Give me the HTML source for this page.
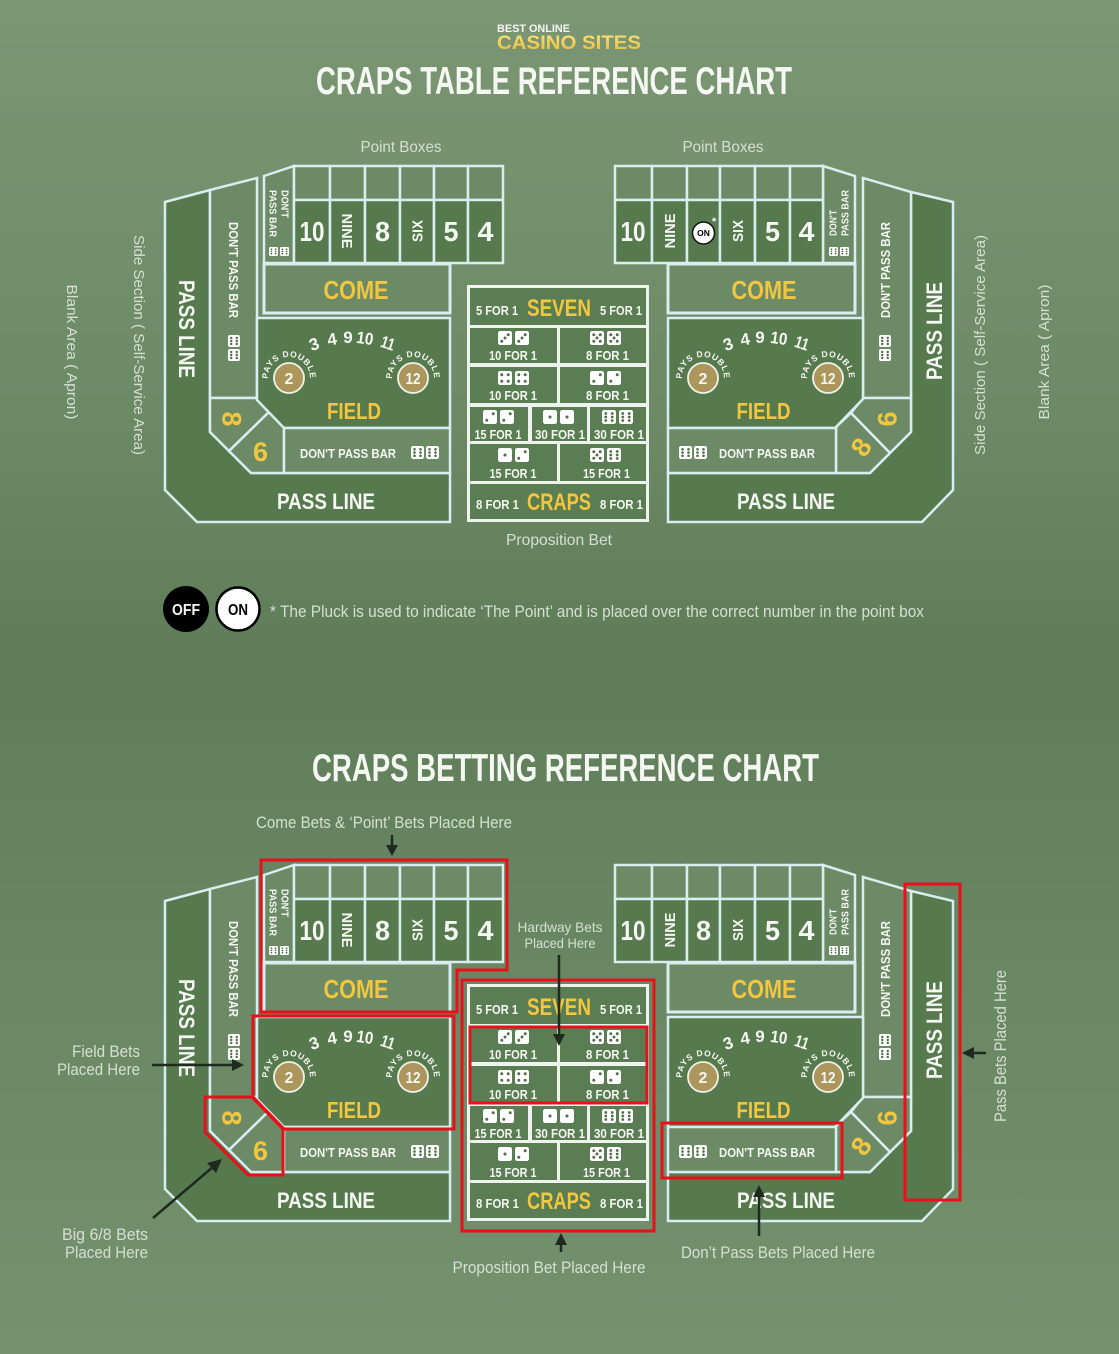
<!DOCTYPE html>
<html><head><meta charset="utf-8"><style>
html,body{margin:0;padding:0;width:1119px;height:1354px;overflow:hidden;background:#6d8a67}
svg{display:block}
.b{font-family:"Liberation Sans",sans-serif;font-weight:bold;fill:#f5f7f2}
.y{fill:#f3c640}
.k{fill:#000}
.l{font-family:"Liberation Sans",sans-serif;fill:#d4e0d0}
.d{fill:#567a4d;stroke:#d8edf0;stroke-width:2.5}
.p{fill:#6b8a65;stroke:#d8edf0;stroke-width:2.5}
.c{fill:#5b7d53}
.r{fill:none;stroke:#e8101a;stroke-width:3}
.a{stroke:#1f2a1e;stroke-width:2.5;fill:none}
.ah{fill:#1f2a1e}
</style></head><body>
<svg width="1119" height="1354" viewBox="0 0 1119 1354" xmlns="http://www.w3.org/2000/svg">
<defs>
<linearGradient id="bg" x1="0" y1="0" x2="0" y2="1">
<stop offset="0" stop-color="#7a9673"/>
<stop offset="0.1" stop-color="#76926f"/>
<stop offset="0.3" stop-color="#6d8a67"/>
<stop offset="0.45" stop-color="#627f5b"/>
<stop offset="0.5" stop-color="#5f7d59"/>
<stop offset="0.62" stop-color="#66835f"/>
<stop offset="0.85" stop-color="#6f8c69"/>
<stop offset="1" stop-color="#75926f"/>
</linearGradient>
<linearGradient id="gold" x1="0" y1="0" x2="0" y2="1">
<stop offset="0" stop-color="#fbe27a"/><stop offset="1" stop-color="#e8b833"/>
</linearGradient>
<symbol id="d1" viewBox="0 0 10 10"><rect width="10" height="10" rx="1.6" fill="#fff"/><circle cx="5" cy="5" r="1.1" fill="#4e6f46"/></symbol>
<symbol id="d2" viewBox="0 0 10 10"><rect width="10" height="10" rx="1.6" fill="#fff"/><circle cx="7.3" cy="2.7" r="1.05" fill="#4e6f46"/><circle cx="2.7" cy="7.3" r="1.05" fill="#4e6f46"/></symbol>
<symbol id="d3" viewBox="0 0 10 10"><rect width="10" height="10" rx="1.6" fill="#fff"/><circle cx="7.3" cy="2.7" r="1.05" fill="#4e6f46"/><circle cx="5" cy="5" r="1.05" fill="#4e6f46"/><circle cx="2.7" cy="7.3" r="1.05" fill="#4e6f46"/></symbol>
<symbol id="d4" viewBox="0 0 10 10"><rect width="10" height="10" rx="1.6" fill="#fff"/><circle cx="2.7" cy="2.7" r="1.05" fill="#4e6f46"/><circle cx="7.3" cy="2.7" r="1.05" fill="#4e6f46"/><circle cx="2.7" cy="7.3" r="1.05" fill="#4e6f46"/><circle cx="7.3" cy="7.3" r="1.05" fill="#4e6f46"/></symbol>
<symbol id="d5" viewBox="0 0 10 10"><rect width="10" height="10" rx="1.6" fill="#fff"/><circle cx="2.7" cy="2.7" r="1.05" fill="#4e6f46"/><circle cx="7.3" cy="2.7" r="1.05" fill="#4e6f46"/><circle cx="5" cy="5" r="1.05" fill="#4e6f46"/><circle cx="2.7" cy="7.3" r="1.05" fill="#4e6f46"/><circle cx="7.3" cy="7.3" r="1.05" fill="#4e6f46"/></symbol>
<symbol id="d6" viewBox="0 0 10 10"><rect width="10" height="10" rx="1.6" fill="#fff"/><circle cx="2.7" cy="2.5" r="1" fill="#4e6f46"/><circle cx="7.3" cy="2.5" r="1" fill="#4e6f46"/><circle cx="2.7" cy="5" r="1" fill="#4e6f46"/><circle cx="7.3" cy="5" r="1" fill="#4e6f46"/><circle cx="2.7" cy="7.5" r="1" fill="#4e6f46"/><circle cx="7.3" cy="7.5" r="1" fill="#4e6f46"/></symbol>
<path id="pd1" d="M269.3,385.2 A21,21 0 1 1 308.7,385.2"/>
<path id="pd2" d="M393.3,385.2 A21,21 0 1 1 432.7,385.2"/>
<path id="pd3" d="M683.3,385.2 A21,21 0 1 1 722.7,385.2"/>
<path id="pd4" d="M808.3,385.2 A21,21 0 1 1 847.7,385.2"/>
</defs>
<rect x="0" y="0" width="1119" height="1354" fill="url(#bg)"/>

<!-- HEADER -->
<text class="b" x="497" y="32" font-size="11" textLength="73" lengthAdjust="spacingAndGlyphs">BEST ONLINE</text>
<text class="b" x="497" y="49" font-size="19" textLength="144" lengthAdjust="spacingAndGlyphs" style="fill:url(#gold)">CASINO SITES</text>
<text class="b" x="554" y="94" font-size="39" text-anchor="middle" textLength="476" lengthAdjust="spacingAndGlyphs">CRAPS TABLE REFERENCE CHART</text>

<!-- labels top -->
<text class="l" x="401" y="152" font-size="16" text-anchor="middle" textLength="81" lengthAdjust="spacingAndGlyphs">Point Boxes</text>
<text class="l" x="723" y="152" font-size="16" text-anchor="middle" textLength="81" lengthAdjust="spacingAndGlyphs">Point Boxes</text>
<text class="l" transform="translate(139,345) rotate(90)" y="5" font-size="15" text-anchor="middle" textLength="220" lengthAdjust="spacingAndGlyphs">Side Section ( Self-Service Area)</text>
<text class="l" transform="translate(72,352) rotate(90)" y="5" font-size="15" text-anchor="middle" textLength="135" lengthAdjust="spacingAndGlyphs">Blank Area ( Apron)</text>
<text class="l" transform="translate(980,345) rotate(-90)" y="5" font-size="15" text-anchor="middle" textLength="220" lengthAdjust="spacingAndGlyphs">Side Section ( Self-Service Area)</text>
<text class="l" transform="translate(1044,352) rotate(-90)" y="5" font-size="15" text-anchor="middle" textLength="135" lengthAdjust="spacingAndGlyphs">Blank Area ( Apron)</text>
<text class="l" x="559" y="545" font-size="16" text-anchor="middle" textLength="106" lengthAdjust="spacingAndGlyphs">Proposition Bet</text>

<!-- ================= TOP TABLE ================= -->
<g>
<polygon class="d" points="165,202 210,190 210,432 251,473 450,473 450,522 197,522 165,490"/>
<polygon class="p" points="210,190 257,178 257,398 210,398"/>
<polygon class="p" points="210,398 256,398 269,412 229,451 210,432"/>
<polygon class="p" points="269,412 284,427 284,473 251,473 229,451"/>
<polygon class="d" points="257,318 450,318 450,428 284,428 257,400"/>
<rect class="p" x="284" y="428" width="166" height="45"/>
<rect class="p" x="264" y="264" width="186" height="49" style="stroke-width:3"/>
<polygon class="p" points="264,176 294,166 294,263 264,263"/>
<rect class="p" x="294" y="166" width="36" height="34"/>
<rect class="p" x="330" y="166" width="35" height="34"/>
<rect class="p" x="365" y="166" width="35" height="34"/>
<rect class="p" x="400" y="166" width="34" height="34"/>
<rect class="p" x="434" y="166" width="34" height="34"/>
<rect class="p" x="468" y="166" width="35" height="34"/>
<rect class="d" x="294" y="200" width="36" height="63"/>
<rect class="d" x="330" y="200" width="35" height="63"/>
<rect class="d" x="365" y="200" width="35" height="63"/>
<rect class="d" x="400" y="200" width="34" height="63"/>
<rect class="d" x="434" y="200" width="34" height="63"/>
<rect class="d" x="468" y="200" width="35" height="63"/>

<text class="b" transform="translate(187,329) rotate(90)" y="8" font-size="22" text-anchor="middle" textLength="98" lengthAdjust="spacingAndGlyphs">PASS LINE</text>
<text class="b" transform="translate(234,270) rotate(90)" y="5" font-size="13" text-anchor="middle" textLength="96" lengthAdjust="spacingAndGlyphs">DON'T PASS BAR</text>
<use href="#d6" x="228" y="335" width="12" height="12"/>
<use href="#d6" x="228" y="349" width="12" height="12"/>
<text class="b" transform="translate(285,190) rotate(90)" y="3.5" font-size="10" textLength="28" lengthAdjust="spacingAndGlyphs">DON'T</text>
<text class="b" transform="translate(273,190) rotate(90)" y="3.5" font-size="10" textLength="47" lengthAdjust="spacingAndGlyphs">PASS BAR</text>
<use href="#d6" x="269" y="247" width="9" height="9"/>
<use href="#d6" x="280" y="247" width="9" height="9"/>

<text class="b" x="312" y="241" font-size="28" text-anchor="middle" textLength="25" lengthAdjust="spacingAndGlyphs">10</text>
<text class="b" transform="translate(347.5,231) rotate(90)" y="5.5" font-size="15" text-anchor="middle" textLength="35" lengthAdjust="spacingAndGlyphs">NINE</text>
<text class="b" x="382.5" y="241" font-size="28" text-anchor="middle" textLength="15" lengthAdjust="spacingAndGlyphs">8</text>
<text class="b" transform="translate(417,231) rotate(-90)" y="5.5" font-size="15" text-anchor="middle" textLength="22" lengthAdjust="spacingAndGlyphs">SIX</text>
<text class="b" x="451" y="241" font-size="28" text-anchor="middle" textLength="15" lengthAdjust="spacingAndGlyphs">5</text>
<text class="b" x="485.5" y="241" font-size="28" text-anchor="middle" textLength="16" lengthAdjust="spacingAndGlyphs">4</text>

<text class="b y" x="356" y="299" font-size="26" text-anchor="middle" textLength="65" lengthAdjust="spacingAndGlyphs">COME</text>

<text class="b" x="314" y="350" font-size="17" text-anchor="middle" transform="rotate(-20 314 344)">3</text>
<text class="b" x="332" y="345" font-size="17" text-anchor="middle" transform="rotate(-10 332 339)">4</text>
<text class="b" x="348" y="343" font-size="17" text-anchor="middle">9</text>
<text class="b" x="365" y="344" font-size="17" text-anchor="middle" textLength="17" lengthAdjust="spacingAndGlyphs" transform="rotate(8 365 338)">10</text>
<text class="b" x="388" y="349" font-size="17" text-anchor="middle" textLength="14" lengthAdjust="spacingAndGlyphs" transform="rotate(18 388 343)">11</text>
<circle cx="289" cy="378" r="15" fill="#ad965b" stroke="#eef2ea" stroke-width="1.8"/>
<text class="b" x="289" y="384" font-size="16" text-anchor="middle">2</text>
<text class="b" font-size="8.5" letter-spacing="0.7"><textPath href="#pd1" startOffset="50%" text-anchor="middle">PAYS DOUBLE</textPath></text>
<circle cx="413" cy="378" r="15" fill="#ad965b" stroke="#eef2ea" stroke-width="1.8"/>
<text class="b" x="413" y="384" font-size="16" text-anchor="middle" textLength="15" lengthAdjust="spacingAndGlyphs">12</text>
<text class="b" font-size="8.5" letter-spacing="0.7"><textPath href="#pd2" startOffset="50%" text-anchor="middle">PAYS DOUBLE</textPath></text>
<text class="b y" x="354" y="419" font-size="23" text-anchor="middle" textLength="54" lengthAdjust="spacingAndGlyphs">FIELD</text>

<text class="b" x="348" y="458" font-size="13" text-anchor="middle" textLength="96" lengthAdjust="spacingAndGlyphs">DON'T PASS BAR</text>
<use href="#d6" x="411" y="446" width="13" height="13"/>
<use href="#d6" x="426" y="446" width="13" height="13"/>
<text class="b" x="326" y="509" font-size="22" text-anchor="middle" textLength="98" lengthAdjust="spacingAndGlyphs">PASS LINE</text>
<text class="b y" transform="translate(232,419) rotate(90)" y="9.5" font-size="27" text-anchor="middle" textLength="15" lengthAdjust="spacingAndGlyphs">8</text>
<text class="b y" x="260.5" y="461" font-size="27" text-anchor="middle" textLength="15" lengthAdjust="spacingAndGlyphs">6</text>

<!-- RIGHT TABLE -->
<polygon class="d" points="953,202 911,192 911,432 870,473 668,473 668,522 922,522 953,490"/>
<polygon class="p" points="863,178 911,192 911,398 863,398"/>
<polygon class="p" points="863,398 911,398 911,432 890,453 851,413"/>
<polygon class="p" points="851,413 890,453 870,473 836,473 836,427"/>
<polygon class="d" points="668,318 863,318 863,399 836,427 836,428 668,428"/>
<rect class="p" x="668" y="428" width="168" height="45"/>
<rect class="p" x="668" y="264" width="187" height="49" style="stroke-width:3"/>
<polygon class="p" points="823,166 855,176 855,263 823,263"/>
<rect class="p" x="615" y="166" width="37" height="34"/>
<rect class="p" x="652" y="166" width="35" height="34"/>
<rect class="p" x="687" y="166" width="33" height="34"/>
<rect class="p" x="720" y="166" width="35" height="34"/>
<rect class="p" x="755" y="166" width="35" height="34"/>
<rect class="p" x="790" y="166" width="33" height="34"/>
<rect class="d" x="615" y="200" width="37" height="63"/>
<rect class="d" x="652" y="200" width="35" height="63"/>
<rect class="d" x="687" y="200" width="33" height="63"/>
<rect class="d" x="720" y="200" width="35" height="63"/>
<rect class="d" x="755" y="200" width="35" height="63"/>
<rect class="d" x="790" y="200" width="33" height="63"/>

<text class="b" x="633" y="241" font-size="28" text-anchor="middle" textLength="25" lengthAdjust="spacingAndGlyphs">10</text>
<text class="b" transform="translate(669.5,231) rotate(-90)" y="5.5" font-size="15" text-anchor="middle" textLength="35" lengthAdjust="spacingAndGlyphs">NINE</text>
<circle cx="703.5" cy="233" r="11" fill="#fff" stroke="#111" stroke-width="1.5"/>
<text class="b k" x="703.5" y="236" font-size="8.5" text-anchor="middle">ON</text>
<text class="b" x="712" y="225" font-size="11">*</text>
<text class="b" transform="translate(737.5,231) rotate(-90)" y="5.5" font-size="15" text-anchor="middle" textLength="22" lengthAdjust="spacingAndGlyphs">SIX</text>
<text class="b" x="772.5" y="241" font-size="28" text-anchor="middle" textLength="15" lengthAdjust="spacingAndGlyphs">5</text>
<text class="b" x="806.5" y="241" font-size="28" text-anchor="middle" textLength="16" lengthAdjust="spacingAndGlyphs">4</text>
<text class="b" transform="translate(833,236) rotate(-90)" y="3.5" font-size="10" textLength="26" lengthAdjust="spacingAndGlyphs">DON'T</text>
<text class="b" transform="translate(845,236) rotate(-90)" y="3.5" font-size="10" textLength="46" lengthAdjust="spacingAndGlyphs">PASS BAR</text>
<use href="#d6" x="829" y="247" width="9" height="9"/>
<use href="#d6" x="840" y="247" width="9" height="9"/>

<text class="b" transform="translate(885,270) rotate(-90)" y="5" font-size="13" text-anchor="middle" textLength="96" lengthAdjust="spacingAndGlyphs">DON'T PASS BAR</text>
<use href="#d6" x="879" y="335" width="12" height="12"/>
<use href="#d6" x="879" y="349" width="12" height="12"/>
<text class="b" transform="translate(934,331) rotate(-90)" y="8" font-size="22" text-anchor="middle" textLength="98" lengthAdjust="spacingAndGlyphs">PASS LINE</text>

<text class="b y" x="764" y="299" font-size="26" text-anchor="middle" textLength="65" lengthAdjust="spacingAndGlyphs">COME</text>

<text class="b" x="728" y="350" font-size="17" text-anchor="middle" transform="rotate(-20 728 344)">3</text>
<text class="b" x="745" y="345" font-size="17" text-anchor="middle" transform="rotate(-10 745 339)">4</text>
<text class="b" x="760" y="343" font-size="17" text-anchor="middle">9</text>
<text class="b" x="779" y="344" font-size="17" text-anchor="middle" textLength="17" lengthAdjust="spacingAndGlyphs" transform="rotate(8 779 338)">10</text>
<text class="b" x="802" y="349" font-size="17" text-anchor="middle" textLength="14" lengthAdjust="spacingAndGlyphs" transform="rotate(18 802 343)">11</text>
<circle cx="703" cy="378" r="15" fill="#ad965b" stroke="#eef2ea" stroke-width="1.8"/>
<text class="b" x="703" y="384" font-size="16" text-anchor="middle">2</text>
<text class="b" font-size="8.5" letter-spacing="0.7"><textPath href="#pd3" startOffset="50%" text-anchor="middle">PAYS DOUBLE</textPath></text>
<circle cx="828" cy="378" r="15" fill="#ad965b" stroke="#eef2ea" stroke-width="1.8"/>
<text class="b" x="828" y="384" font-size="16" text-anchor="middle" textLength="15" lengthAdjust="spacingAndGlyphs">12</text>
<text class="b" font-size="8.5" letter-spacing="0.7"><textPath href="#pd4" startOffset="50%" text-anchor="middle">PAYS DOUBLE</textPath></text>
<text class="b y" x="763.5" y="419" font-size="23" text-anchor="middle" textLength="54" lengthAdjust="spacingAndGlyphs">FIELD</text>

<use href="#d6" x="679" y="446" width="13" height="13"/>
<use href="#d6" x="694" y="446" width="13" height="13"/>
<text class="b" x="767" y="458" font-size="13" text-anchor="middle" textLength="96" lengthAdjust="spacingAndGlyphs">DON'T PASS BAR</text>
<text class="b" x="786" y="509" font-size="22" text-anchor="middle" textLength="98" lengthAdjust="spacingAndGlyphs">PASS LINE</text>
<text class="b y" transform="translate(887,419) rotate(-90)" y="9.5" font-size="27" text-anchor="middle" textLength="15" lengthAdjust="spacingAndGlyphs">6</text>
<text class="b y" transform="translate(861,447) rotate(-55)" y="9.5" font-size="27" text-anchor="middle" textLength="15" lengthAdjust="spacingAndGlyphs">8</text>

<!-- PROPOSITION -->
<rect x="467" y="285" width="182" height="237" fill="#eef3ee"/>
<rect class="c" x="470" y="288" width="176" height="37"/>
<rect class="c" x="470" y="328" width="87" height="35"/>
<rect class="c" x="560" y="328" width="86" height="35"/>
<rect class="c" x="470" y="367" width="87" height="36"/>
<rect class="c" x="560" y="367" width="86" height="36"/>
<rect class="c" x="470" y="407" width="58" height="34"/>
<rect class="c" x="532" y="407" width="55" height="34"/>
<rect class="c" x="590" y="407" width="56" height="34"/>
<rect class="c" x="470" y="444" width="87" height="37"/>
<rect class="c" x="560" y="444" width="86" height="37"/>
<rect class="c" x="470" y="484" width="176" height="35"/>

<text class="b" x="497" y="315" font-size="13" text-anchor="middle" textLength="42" lengthAdjust="spacingAndGlyphs">5 FOR 1</text>
<text class="b y" x="559" y="316" font-size="24" text-anchor="middle" textLength="64" lengthAdjust="spacingAndGlyphs">SEVEN</text>
<text class="b" x="621" y="315" font-size="13" text-anchor="middle" textLength="42" lengthAdjust="spacingAndGlyphs">5 FOR 1</text>

<use href="#d3" x="498" y="331" width="14" height="14"/><use href="#d3" x="515" y="331" width="14" height="14"/>
<text class="b" x="513" y="360" font-size="13" text-anchor="middle" textLength="48" lengthAdjust="spacingAndGlyphs">10 FOR 1</text>
<use href="#d5" x="590" y="331" width="14" height="14"/><use href="#d5" x="607" y="331" width="14" height="14"/>
<text class="b" x="607.5" y="360" font-size="13" text-anchor="middle" textLength="43" lengthAdjust="spacingAndGlyphs">8 FOR 1</text>

<use href="#d4" x="498" y="371" width="14" height="14"/><use href="#d4" x="515" y="371" width="14" height="14"/>
<text class="b" x="513" y="400" font-size="13" text-anchor="middle" textLength="48" lengthAdjust="spacingAndGlyphs">10 FOR 1</text>
<use href="#d2" x="590" y="371" width="14" height="14"/><use href="#d2" x="607" y="371" width="14" height="14"/>
<text class="b" x="607.5" y="400" font-size="13" text-anchor="middle" textLength="43" lengthAdjust="spacingAndGlyphs">8 FOR 1</text>

<use href="#d2" x="483" y="410" width="14" height="14"/><use href="#d2" x="500" y="410" width="14" height="14"/>
<text class="b" x="498" y="439" font-size="12.5" text-anchor="middle" textLength="47" lengthAdjust="spacingAndGlyphs">15 FOR 1</text>
<use href="#d1" x="543" y="410" width="14" height="14"/><use href="#d1" x="560" y="410" width="14" height="14"/>
<text class="b" x="560" y="439" font-size="12.5" text-anchor="middle" textLength="50" lengthAdjust="spacingAndGlyphs">30 FOR 1</text>
<use href="#d6" x="602" y="410" width="14" height="14"/><use href="#d6" x="619" y="410" width="14" height="14"/>
<text class="b" x="619" y="439" font-size="12.5" text-anchor="middle" textLength="50" lengthAdjust="spacingAndGlyphs">30 FOR 1</text>

<use href="#d1" x="498" y="448" width="14" height="14"/><use href="#d2" x="515" y="448" width="14" height="14"/>
<text class="b" x="513" y="478" font-size="13" text-anchor="middle" textLength="47" lengthAdjust="spacingAndGlyphs">15 FOR 1</text>
<use href="#d5" x="590" y="448" width="14" height="14"/><use href="#d6" x="607" y="448" width="14" height="14"/>
<text class="b" x="606.5" y="478" font-size="13" text-anchor="middle" textLength="47" lengthAdjust="spacingAndGlyphs">15 FOR 1</text>

<text class="b" x="497.5" y="509" font-size="13" text-anchor="middle" textLength="43" lengthAdjust="spacingAndGlyphs">8 FOR 1</text>
<text class="b y" x="559" y="510" font-size="24" text-anchor="middle" textLength="64" lengthAdjust="spacingAndGlyphs">CRAPS</text>
<text class="b" x="621.5" y="509" font-size="13" text-anchor="middle" textLength="43" lengthAdjust="spacingAndGlyphs">8 FOR 1</text>
</g>

<!-- PLUCK -->
<circle cx="186" cy="609" r="23" fill="#000"/>
<text class="b" x="186" y="615" font-size="16" text-anchor="middle" textLength="28" lengthAdjust="spacingAndGlyphs">OFF</text>
<circle cx="238" cy="609" r="21.5" fill="#fff" stroke="#000" stroke-width="2.5"/>
<text class="b k" x="238" y="615" font-size="16" text-anchor="middle" textLength="20" lengthAdjust="spacingAndGlyphs">ON</text>
<text class="l" x="270" y="617" font-size="17" textLength="654" lengthAdjust="spacingAndGlyphs">* The Pluck is used to indicate ‘The Point’ and is placed over the correct number in the point box</text>

<!-- SECOND TITLE -->
<text class="b" x="565.5" y="781" font-size="39" text-anchor="middle" textLength="507" lengthAdjust="spacingAndGlyphs">CRAPS BETTING REFERENCE CHART</text>

<!-- ================= BOTTOM TABLE ================= -->
<g transform="translate(0,699)">
<polygon class="d" points="165,202 210,190 210,432 251,473 450,473 450,522 197,522 165,490"/>
<polygon class="p" points="210,190 257,178 257,398 210,398"/>
<polygon class="p" points="210,398 256,398 269,412 229,451 210,432"/>
<polygon class="p" points="269,412 284,427 284,473 251,473 229,451"/>
<polygon class="d" points="257,318 450,318 450,428 284,428 257,400"/>
<rect class="p" x="284" y="428" width="166" height="45"/>
<rect class="p" x="264" y="264" width="186" height="49" style="stroke-width:3"/>
<polygon class="p" points="264,176 294,166 294,263 264,263"/>
<rect class="p" x="294" y="166" width="36" height="34"/>
<rect class="p" x="330" y="166" width="35" height="34"/>
<rect class="p" x="365" y="166" width="35" height="34"/>
<rect class="p" x="400" y="166" width="34" height="34"/>
<rect class="p" x="434" y="166" width="34" height="34"/>
<rect class="p" x="468" y="166" width="35" height="34"/>
<rect class="d" x="294" y="200" width="36" height="63"/>
<rect class="d" x="330" y="200" width="35" height="63"/>
<rect class="d" x="365" y="200" width="35" height="63"/>
<rect class="d" x="400" y="200" width="34" height="63"/>
<rect class="d" x="434" y="200" width="34" height="63"/>
<rect class="d" x="468" y="200" width="35" height="63"/>

<text class="b" transform="translate(187,329) rotate(90)" y="8" font-size="22" text-anchor="middle" textLength="98" lengthAdjust="spacingAndGlyphs">PASS LINE</text>
<text class="b" transform="translate(234,270) rotate(90)" y="5" font-size="13" text-anchor="middle" textLength="96" lengthAdjust="spacingAndGlyphs">DON'T PASS BAR</text>
<use href="#d6" x="228" y="335" width="12" height="12"/>
<use href="#d6" x="228" y="349" width="12" height="12"/>
<text class="b" transform="translate(285,190) rotate(90)" y="3.5" font-size="10" textLength="28" lengthAdjust="spacingAndGlyphs">DON'T</text>
<text class="b" transform="translate(273,190) rotate(90)" y="3.5" font-size="10" textLength="47" lengthAdjust="spacingAndGlyphs">PASS BAR</text>
<use href="#d6" x="269" y="247" width="9" height="9"/>
<use href="#d6" x="280" y="247" width="9" height="9"/>

<text class="b" x="312" y="241" font-size="28" text-anchor="middle" textLength="25" lengthAdjust="spacingAndGlyphs">10</text>
<text class="b" transform="translate(347.5,231) rotate(90)" y="5.5" font-size="15" text-anchor="middle" textLength="35" lengthAdjust="spacingAndGlyphs">NINE</text>
<text class="b" x="382.5" y="241" font-size="28" text-anchor="middle" textLength="15" lengthAdjust="spacingAndGlyphs">8</text>
<text class="b" transform="translate(417,231) rotate(-90)" y="5.5" font-size="15" text-anchor="middle" textLength="22" lengthAdjust="spacingAndGlyphs">SIX</text>
<text class="b" x="451" y="241" font-size="28" text-anchor="middle" textLength="15" lengthAdjust="spacingAndGlyphs">5</text>
<text class="b" x="485.5" y="241" font-size="28" text-anchor="middle" textLength="16" lengthAdjust="spacingAndGlyphs">4</text>

<text class="b y" x="356" y="299" font-size="26" text-anchor="middle" textLength="65" lengthAdjust="spacingAndGlyphs">COME</text>

<text class="b" x="314" y="350" font-size="17" text-anchor="middle" transform="rotate(-20 314 344)">3</text>
<text class="b" x="332" y="345" font-size="17" text-anchor="middle" transform="rotate(-10 332 339)">4</text>
<text class="b" x="348" y="343" font-size="17" text-anchor="middle">9</text>
<text class="b" x="365" y="344" font-size="17" text-anchor="middle" textLength="17" lengthAdjust="spacingAndGlyphs" transform="rotate(8 365 338)">10</text>
<text class="b" x="388" y="349" font-size="17" text-anchor="middle" textLength="14" lengthAdjust="spacingAndGlyphs" transform="rotate(18 388 343)">11</text>
<circle cx="289" cy="378" r="15" fill="#ad965b" stroke="#eef2ea" stroke-width="1.8"/>
<text class="b" x="289" y="384" font-size="16" text-anchor="middle">2</text>
<text class="b" font-size="8.5" letter-spacing="0.7"><textPath href="#pd1" startOffset="50%" text-anchor="middle">PAYS DOUBLE</textPath></text>
<circle cx="413" cy="378" r="15" fill="#ad965b" stroke="#eef2ea" stroke-width="1.8"/>
<text class="b" x="413" y="384" font-size="16" text-anchor="middle" textLength="15" lengthAdjust="spacingAndGlyphs">12</text>
<text class="b" font-size="8.5" letter-spacing="0.7"><textPath href="#pd2" startOffset="50%" text-anchor="middle">PAYS DOUBLE</textPath></text>
<text class="b y" x="354" y="419" font-size="23" text-anchor="middle" textLength="54" lengthAdjust="spacingAndGlyphs">FIELD</text>

<text class="b" x="348" y="458" font-size="13" text-anchor="middle" textLength="96" lengthAdjust="spacingAndGlyphs">DON'T PASS BAR</text>
<use href="#d6" x="411" y="446" width="13" height="13"/>
<use href="#d6" x="426" y="446" width="13" height="13"/>
<text class="b" x="326" y="509" font-size="22" text-anchor="middle" textLength="98" lengthAdjust="spacingAndGlyphs">PASS LINE</text>
<text class="b y" transform="translate(232,419) rotate(90)" y="9.5" font-size="27" text-anchor="middle" textLength="15" lengthAdjust="spacingAndGlyphs">8</text>
<text class="b y" x="260.5" y="461" font-size="27" text-anchor="middle" textLength="15" lengthAdjust="spacingAndGlyphs">6</text>

<polygon class="d" points="953,202 911,192 911,432 870,473 668,473 668,522 922,522 953,490"/>
<polygon class="p" points="863,178 911,192 911,398 863,398"/>
<polygon class="p" points="863,398 911,398 911,432 890,453 851,413"/>
<polygon class="p" points="851,413 890,453 870,473 836,473 836,427"/>
<polygon class="d" points="668,318 863,318 863,399 836,427 836,428 668,428"/>
<rect class="p" x="668" y="428" width="168" height="45"/>
<rect class="p" x="668" y="264" width="187" height="49" style="stroke-width:3"/>
<polygon class="p" points="823,166 855,176 855,263 823,263"/>
<rect class="p" x="615" y="166" width="37" height="34"/>
<rect class="p" x="652" y="166" width="35" height="34"/>
<rect class="p" x="687" y="166" width="33" height="34"/>
<rect class="p" x="720" y="166" width="35" height="34"/>
<rect class="p" x="755" y="166" width="35" height="34"/>
<rect class="p" x="790" y="166" width="33" height="34"/>
<rect class="d" x="615" y="200" width="37" height="63"/>
<rect class="d" x="652" y="200" width="35" height="63"/>
<rect class="d" x="687" y="200" width="33" height="63"/>
<rect class="d" x="720" y="200" width="35" height="63"/>
<rect class="d" x="755" y="200" width="35" height="63"/>
<rect class="d" x="790" y="200" width="33" height="63"/>

<text class="b" x="633" y="241" font-size="28" text-anchor="middle" textLength="25" lengthAdjust="spacingAndGlyphs">10</text>
<text class="b" transform="translate(669.5,231) rotate(-90)" y="5.5" font-size="15" text-anchor="middle" textLength="35" lengthAdjust="spacingAndGlyphs">NINE</text>
<text class="b" x="703.5" y="241" font-size="28" text-anchor="middle" textLength="15" lengthAdjust="spacingAndGlyphs">8</text>
<text class="b" transform="translate(737.5,231) rotate(-90)" y="5.5" font-size="15" text-anchor="middle" textLength="22" lengthAdjust="spacingAndGlyphs">SIX</text>
<text class="b" x="772.5" y="241" font-size="28" text-anchor="middle" textLength="15" lengthAdjust="spacingAndGlyphs">5</text>
<text class="b" x="806.5" y="241" font-size="28" text-anchor="middle" textLength="16" lengthAdjust="spacingAndGlyphs">4</text>
<text class="b" transform="translate(833,236) rotate(-90)" y="3.5" font-size="10" textLength="26" lengthAdjust="spacingAndGlyphs">DON'T</text>
<text class="b" transform="translate(845,236) rotate(-90)" y="3.5" font-size="10" textLength="46" lengthAdjust="spacingAndGlyphs">PASS BAR</text>
<use href="#d6" x="829" y="247" width="9" height="9"/>
<use href="#d6" x="840" y="247" width="9" height="9"/>

<text class="b" transform="translate(885,270) rotate(-90)" y="5" font-size="13" text-anchor="middle" textLength="96" lengthAdjust="spacingAndGlyphs">DON'T PASS BAR</text>
<use href="#d6" x="879" y="335" width="12" height="12"/>
<use href="#d6" x="879" y="349" width="12" height="12"/>
<text class="b" transform="translate(934,331) rotate(-90)" y="8" font-size="22" text-anchor="middle" textLength="98" lengthAdjust="spacingAndGlyphs">PASS LINE</text>

<text class="b y" x="764" y="299" font-size="26" text-anchor="middle" textLength="65" lengthAdjust="spacingAndGlyphs">COME</text>

<text class="b" x="728" y="350" font-size="17" text-anchor="middle" transform="rotate(-20 728 344)">3</text>
<text class="b" x="745" y="345" font-size="17" text-anchor="middle" transform="rotate(-10 745 339)">4</text>
<text class="b" x="760" y="343" font-size="17" text-anchor="middle">9</text>
<text class="b" x="779" y="344" font-size="17" text-anchor="middle" textLength="17" lengthAdjust="spacingAndGlyphs" transform="rotate(8 779 338)">10</text>
<text class="b" x="802" y="349" font-size="17" text-anchor="middle" textLength="14" lengthAdjust="spacingAndGlyphs" transform="rotate(18 802 343)">11</text>
<circle cx="703" cy="378" r="15" fill="#ad965b" stroke="#eef2ea" stroke-width="1.8"/>
<text class="b" x="703" y="384" font-size="16" text-anchor="middle">2</text>
<text class="b" font-size="8.5" letter-spacing="0.7"><textPath href="#pd3" startOffset="50%" text-anchor="middle">PAYS DOUBLE</textPath></text>
<circle cx="828" cy="378" r="15" fill="#ad965b" stroke="#eef2ea" stroke-width="1.8"/>
<text class="b" x="828" y="384" font-size="16" text-anchor="middle" textLength="15" lengthAdjust="spacingAndGlyphs">12</text>
<text class="b" font-size="8.5" letter-spacing="0.7"><textPath href="#pd4" startOffset="50%" text-anchor="middle">PAYS DOUBLE</textPath></text>
<text class="b y" x="763.5" y="419" font-size="23" text-anchor="middle" textLength="54" lengthAdjust="spacingAndGlyphs">FIELD</text>

<use href="#d6" x="679" y="446" width="13" height="13"/>
<use href="#d6" x="694" y="446" width="13" height="13"/>
<text class="b" x="767" y="458" font-size="13" text-anchor="middle" textLength="96" lengthAdjust="spacingAndGlyphs">DON'T PASS BAR</text>
<text class="b" x="786" y="509" font-size="22" text-anchor="middle" textLength="98" lengthAdjust="spacingAndGlyphs">PASS LINE</text>
<text class="b y" transform="translate(887,419) rotate(-90)" y="9.5" font-size="27" text-anchor="middle" textLength="15" lengthAdjust="spacingAndGlyphs">6</text>
<text class="b y" transform="translate(861,447) rotate(-55)" y="9.5" font-size="27" text-anchor="middle" textLength="15" lengthAdjust="spacingAndGlyphs">8</text>

<rect x="467" y="285" width="182" height="237" fill="#eef3ee"/>
<rect class="c" x="470" y="288" width="176" height="37"/>
<rect class="c" x="470" y="328" width="87" height="35"/>
<rect class="c" x="560" y="328" width="86" height="35"/>
<rect class="c" x="470" y="367" width="87" height="36"/>
<rect class="c" x="560" y="367" width="86" height="36"/>
<rect class="c" x="470" y="407" width="58" height="34"/>
<rect class="c" x="532" y="407" width="55" height="34"/>
<rect class="c" x="590" y="407" width="56" height="34"/>
<rect class="c" x="470" y="444" width="87" height="37"/>
<rect class="c" x="560" y="444" width="86" height="37"/>
<rect class="c" x="470" y="484" width="176" height="35"/>

<text class="b" x="497" y="315" font-size="13" text-anchor="middle" textLength="42" lengthAdjust="spacingAndGlyphs">5 FOR 1</text>
<text class="b y" x="559" y="316" font-size="24" text-anchor="middle" textLength="64" lengthAdjust="spacingAndGlyphs">SEVEN</text>
<text class="b" x="621" y="315" font-size="13" text-anchor="middle" textLength="42" lengthAdjust="spacingAndGlyphs">5 FOR 1</text>

<use href="#d3" x="498" y="331" width="14" height="14"/><use href="#d3" x="515" y="331" width="14" height="14"/>
<text class="b" x="513" y="360" font-size="13" text-anchor="middle" textLength="48" lengthAdjust="spacingAndGlyphs">10 FOR 1</text>
<use href="#d5" x="590" y="331" width="14" height="14"/><use href="#d5" x="607" y="331" width="14" height="14"/>
<text class="b" x="607.5" y="360" font-size="13" text-anchor="middle" textLength="43" lengthAdjust="spacingAndGlyphs">8 FOR 1</text>

<use href="#d4" x="498" y="371" width="14" height="14"/><use href="#d4" x="515" y="371" width="14" height="14"/>
<text class="b" x="513" y="400" font-size="13" text-anchor="middle" textLength="48" lengthAdjust="spacingAndGlyphs">10 FOR 1</text>
<use href="#d2" x="590" y="371" width="14" height="14"/><use href="#d2" x="607" y="371" width="14" height="14"/>
<text class="b" x="607.5" y="400" font-size="13" text-anchor="middle" textLength="43" lengthAdjust="spacingAndGlyphs">8 FOR 1</text>

<use href="#d2" x="483" y="410" width="14" height="14"/><use href="#d2" x="500" y="410" width="14" height="14"/>
<text class="b" x="498" y="439" font-size="12.5" text-anchor="middle" textLength="47" lengthAdjust="spacingAndGlyphs">15 FOR 1</text>
<use href="#d1" x="543" y="410" width="14" height="14"/><use href="#d1" x="560" y="410" width="14" height="14"/>
<text class="b" x="560" y="439" font-size="12.5" text-anchor="middle" textLength="50" lengthAdjust="spacingAndGlyphs">30 FOR 1</text>
<use href="#d6" x="602" y="410" width="14" height="14"/><use href="#d6" x="619" y="410" width="14" height="14"/>
<text class="b" x="619" y="439" font-size="12.5" text-anchor="middle" textLength="50" lengthAdjust="spacingAndGlyphs">30 FOR 1</text>

<use href="#d1" x="498" y="448" width="14" height="14"/><use href="#d2" x="515" y="448" width="14" height="14"/>
<text class="b" x="513" y="478" font-size="13" text-anchor="middle" textLength="47" lengthAdjust="spacingAndGlyphs">15 FOR 1</text>
<use href="#d5" x="590" y="448" width="14" height="14"/><use href="#d6" x="607" y="448" width="14" height="14"/>
<text class="b" x="606.5" y="478" font-size="13" text-anchor="middle" textLength="47" lengthAdjust="spacingAndGlyphs">15 FOR 1</text>

<text class="b" x="497.5" y="509" font-size="13" text-anchor="middle" textLength="43" lengthAdjust="spacingAndGlyphs">8 FOR 1</text>
<text class="b y" x="559" y="510" font-size="24" text-anchor="middle" textLength="64" lengthAdjust="spacingAndGlyphs">CRAPS</text>
<text class="b" x="621.5" y="509" font-size="13" text-anchor="middle" textLength="43" lengthAdjust="spacingAndGlyphs">8 FOR 1</text>
</g>

<!-- RED HIGHLIGHTS -->
<polygon class="r" points="261,860 507,860 507,970 457,970 457,1012 261,1012"/>
<polygon class="r" points="253,1016 454,1016 454,1129 283,1129 253,1098"/>
<polygon class="r" points="205,1097 253,1097 283,1128 283,1175 248,1175 205,1132"/>
<rect class="r" x="462" y="980" width="192" height="251"/>
<rect class="r" x="470" y="1027" width="177" height="76"/>
<rect class="r" x="662" y="1123" width="180" height="55"/>
<rect class="r" x="905" y="884" width="55" height="316"/>

<!-- ARROWS -->
<line class="a" x1="392" y1="835" x2="392" y2="847"/>
<polygon class="ah" points="386,845 398,845 392,856"/>
<line class="a" x1="559" y1="955" x2="559" y2="1036"/>
<polygon class="ah" points="553,1034 565,1034 559,1046"/>
<line class="a" x1="152" y1="1065" x2="234" y2="1065"/>
<polygon class="ah" points="232,1059 232,1071 244,1065"/>
<line class="a" x1="153" y1="1218" x2="214" y2="1166"/>
<polygon class="ah" points="207,1163 216,1173 222,1159"/>
<line class="a" x1="561" y1="1252" x2="561" y2="1243"/>
<polygon class="ah" points="555,1245 567,1245 561,1233"/>
<line class="a" x1="759" y1="1236" x2="759" y2="1195"/>
<polygon class="ah" points="753,1197 765,1197 759,1185"/>
<line class="a" x1="986" y1="1053" x2="972" y2="1053"/>
<polygon class="ah" points="974,1047 974,1059 962,1053"/>

<!-- ANNOTATION LABELS -->
<text class="l" x="384" y="828" font-size="17" text-anchor="middle" textLength="256" lengthAdjust="spacingAndGlyphs">Come Bets &amp; ‘Point’ Bets Placed Here</text>
<text class="l" x="560" y="932" font-size="14" text-anchor="middle" textLength="85" lengthAdjust="spacingAndGlyphs">Hardway Bets</text>
<text class="l" x="560" y="948" font-size="14" text-anchor="middle" textLength="71" lengthAdjust="spacingAndGlyphs">Placed Here</text>
<text class="l" x="140" y="1057" font-size="17" text-anchor="end" textLength="68" lengthAdjust="spacingAndGlyphs">Field Bets</text>
<text class="l" x="140" y="1075" font-size="17" text-anchor="end" textLength="83" lengthAdjust="spacingAndGlyphs">Placed Here</text>
<text class="l" x="148" y="1240" font-size="17" text-anchor="end" textLength="86" lengthAdjust="spacingAndGlyphs">Big 6/8 Bets</text>
<text class="l" x="148" y="1258" font-size="17" text-anchor="end" textLength="83" lengthAdjust="spacingAndGlyphs">Placed Here</text>
<text class="l" x="549" y="1273" font-size="17" text-anchor="middle" textLength="193" lengthAdjust="spacingAndGlyphs">Proposition Bet Placed Here</text>
<text class="l" x="778" y="1258" font-size="17" text-anchor="middle" textLength="194" lengthAdjust="spacingAndGlyphs">Don’t Pass Bets Placed Here</text>
<text class="l" transform="translate(1000,1046) rotate(-90)" y="6" font-size="17" text-anchor="middle" textLength="152" lengthAdjust="spacingAndGlyphs">Pass Bets Placed Here</text>
</svg>
</body></html>
